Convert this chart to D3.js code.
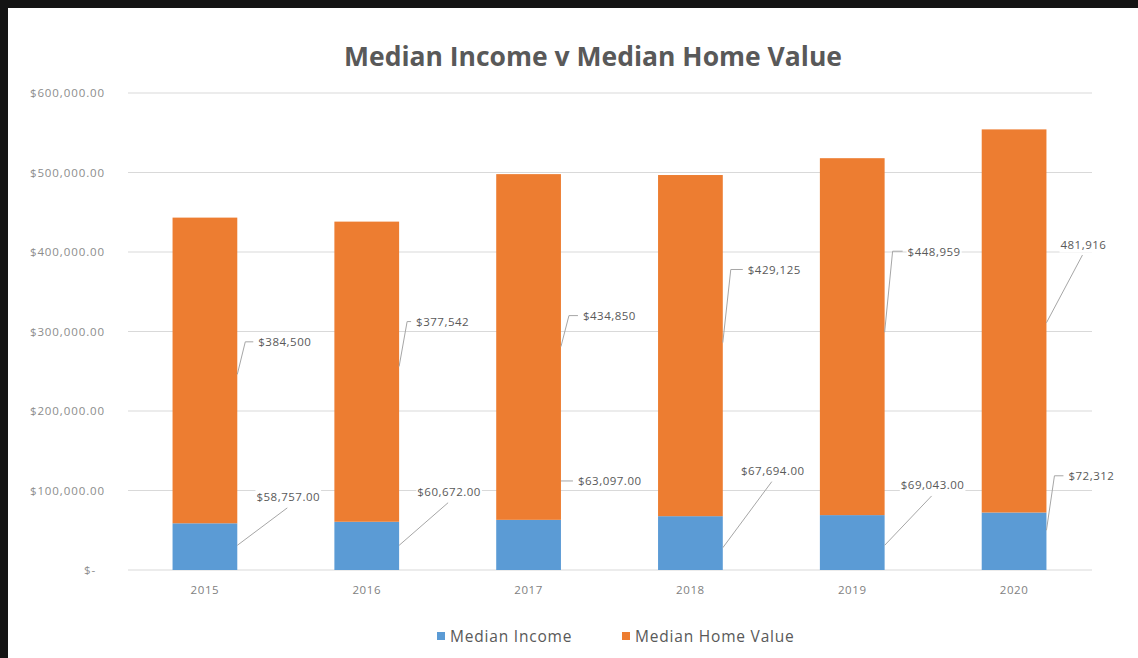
<!DOCTYPE html>
<html>
<head>
<meta charset="utf-8">
<script src="https://cdn.jsdelivr.net/npm/d3@7"></script>
<style>
  html, body { margin: 0; padding: 0; background: #141414; }
  svg { display: block; }
</style>
</head>
<body>
<svg id="chart" width="1138" height="658"></svg>
<script>
// Chart data
const years = ["2015", "2016", "2017", "2018", "2019", "2020"];
const medianIncome = [58757, 60672, 63097, 67694, 69043, 72312];
const medianHomeValue = [384500, 377542, 434850, 429125, 448959, 481916];
const incomeLabels = ["$58,757.00", "$60,672.00", "$63,097.00", "$67,694.00", "$69,043.00", "$72,312"];
const homeLabels = ["$384,500", "$377,542", "$434,850", "$429,125", "$448,959", "481,916"];
const yTicks = [0, 100000, 200000, 300000, 400000, 500000, 600000];
const seriesNames = ["Median Income", "Median Home Value"];

// Callout placement: where the leader leaves the bar (value), where the label sits (value),
// and the horizontal offset of the label from the bar's right edge.
const homeCallouts = [
  { kind: "elbow", from: 246000, at: 287000, dx: 21 },
  { kind: "elbow", from: 256000, at: 312500, dx: 17 },
  { kind: "elbow", from: 281000, at: 320000, dx: 22 },
  { kind: "elbow", from: 286000, at: 378000, dx: 25 },
  { kind: "elbow", from: 299000, at: 401000, dx: 23 },
  { kind: "under", from: 311000, at: 410000, dx: 37 }
];
const incomeCallouts = [
  { kind: "under", from: 31000, at: 92000, dx: 51 },
  { kind: "under", from: 31000, at: 98500, dx: 50 },
  { kind: "elbow", from: 112000, at: 112000, dx: 17 },
  { kind: "under", from: 28000, at: 125000, dx: 50 },
  { kind: "under", from: 31000, at: 107000, dx: 48 },
  { kind: "elbow", from: 50000, at: 118500, dx: 22 }
];

const colors = { income: "#5B9BD5", home: "#ED7D31" };
const font = "'Open Sans', 'DejaVu Sans', sans-serif";

const svg = d3.select("#chart");
const W = 1138, H = 658;

// Chart panel
svg.append("rect").attr("x", 8).attr("y", 8).attr("width", W - 8).attr("height", H - 8).attr("fill", "#ffffff");

const x = d3.scaleBand().domain(years).range([124, 1095]).paddingInner(0.6).paddingOuter(0.3);
const y = d3.scaleLinear().domain([0, 600000]).range([570, 93]);

// Title
svg.append("text")
  .attr("x", 593).attr("y", 66)
  .attr("text-anchor", "middle")
  .attr("font-family", font).attr("font-weight", 700).attr("font-size", 26.5)
  .attr("fill", "#595959")
  .text("Median Income v Median Home Value");

// Gridlines
svg.append("g").selectAll("line").data(yTicks).join("line")
  .attr("x1", 128).attr("x2", 1092)
  .attr("y1", d => y(d)).attr("y2", d => y(d))
  .attr("stroke", "#d9d9d9").attr("stroke-width", 1.2);

// Y axis labels
const fmtMoney = d3.format(",.2f");
svg.append("g").selectAll("text").data(yTicks).join("text")
  .attr("x", d => d === 0 ? 96 : 105)
  .attr("y", d => y(d) + 4)
  .attr("text-anchor", "end")
  .attr("font-family", font).attr("font-size", 11.5).attr("letter-spacing", 0.9)
  .attr("fill", "#8c8c8c")
  .text(d => d === 0 ? "$-" : "$" + fmtMoney(d));

// X axis labels
svg.append("g").selectAll("text").data(years).join("text")
  .attr("x", d => x(d) + x.bandwidth() / 2)
  .attr("y", 594)
  .attr("text-anchor", "middle")
  .attr("font-family", font).attr("font-size", 11.5).attr("letter-spacing", 0.6)
  .attr("fill", "#7f7f7f")
  .text(d => d);

// Stacked bars
const rows = years.map((yr, i) => ({ year: yr, income: medianIncome[i], home: medianHomeValue[i] }));
const stack = d3.stack().keys(["income", "home"])(rows);
svg.append("g").selectAll("g").data(stack).join("g")
  .attr("fill", d => colors[d.key])
  .selectAll("rect").data(d => d).join("rect")
  .attr("x", d => x(d.data.year))
  .attr("width", x.bandwidth())
  .attr("y", d => y(d[1]))
  .attr("height", d => y(d[0]) - y(d[1]));

// Data label callouts with leader lines
const calloutLayer = svg.append("g");
function drawCallout(i, label, c) {
  const edge = x(years[i]) + x.bandwidth();
  const y0 = y(c.from), y1 = y(c.at);
  const g = calloutLayer.append("g");
  const line = g.append("path").attr("fill", "none").attr("stroke", "#a6a6a6").attr("stroke-width", 1);
  const bg = g.append("rect").attr("fill", "#ffffff");
  const t = g.append("text")
    .attr("font-family", font).attr("font-size", 11.5).attr("letter-spacing", 0.5)
    .attr("fill", "#595959")
    .attr("dominant-baseline", "central")
    .text(label);
  if (c.kind === "elbow") {
    t.attr("x", edge + c.dx).attr("y", y1).attr("text-anchor", "start");
    const ex = edge + Math.min(8, c.dx - 8);
    line.attr("d", y0 === y1
      ? `M${edge},${y0}H${edge + c.dx - 5}`
      : `M${edge},${y0}L${ex},${y1}H${edge + c.dx - 5}`);
  } else {
    const cx = edge + c.dx;
    t.attr("x", cx).attr("y", y1).attr("text-anchor", "middle");
    line.attr("d", `M${edge},${y0}L${cx - 1},${y1 + 11}`);
  }
  const bb = t.node().getBBox();
  bg.attr("x", bb.x - 1).attr("y", bb.y - 1).attr("width", bb.width + 2).attr("height", bb.height + 2);
}
homeCallouts.forEach((c, i) => drawCallout(i, homeLabels[i], c));
incomeCallouts.forEach((c, i) => drawCallout(i, incomeLabels[i], c));

// Legend
const legend = svg.append("g");
const legendX = [437, 622];
seriesNames.forEach((name, i) => {
  legend.append("rect")
    .attr("x", legendX[i]).attr("y", 632).attr("width", 8).attr("height", 8)
    .attr("fill", i === 0 ? colors.income : colors.home);
  legend.append("text")
    .attr("x", legendX[i] + 13).attr("y", 642)
    .attr("font-family", font).attr("font-size", 15.5).attr("letter-spacing", 0.8)
    .attr("fill", "#595959")
    .text(name);
});
</script>
</body>
</html>
